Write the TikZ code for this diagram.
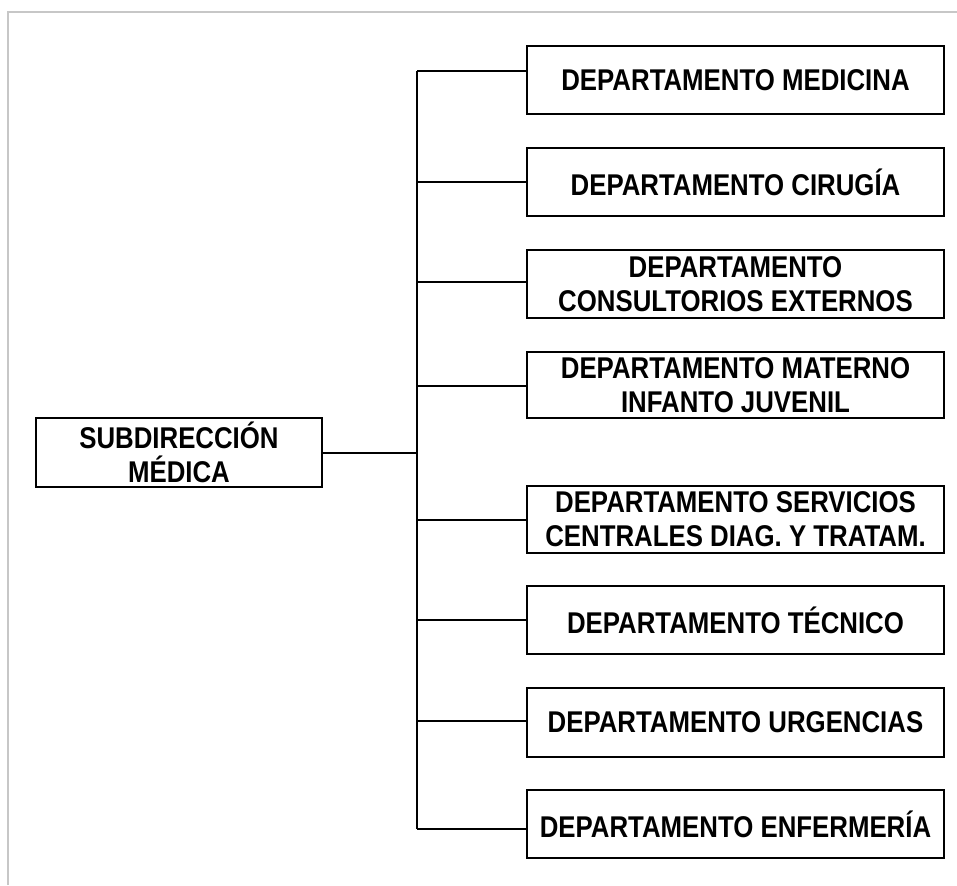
\documentclass[tikz,border=0pt]{standalone}
\usepackage{fontspec}
\setmainfont{Liberation Sans}[FakeStretch=0.86]
\begin{document}
\begin{tikzpicture}[x=1pt,y=-1pt,
  dept/.style={draw=black, line width=2pt, minimum width=417pt, inner sep=0pt,
    align=center, font=\fontsize{30}{34}\selectfont\bfseries},
  conn/.style={draw=black, line width=2pt},
  frame/.style={draw=black!22, line width=1.5pt}]
\useasboundingbox (0,0) rectangle (957,885);
\draw[frame] (8,885) -- (8,12) -- (957,12);
% root
\node[dept, minimum width=286pt, minimum height=69pt] (root) at (179,452.5) {SUBDIRECCIÓN\\MÉDICA};
% departments
\node[dept, minimum height=68pt] (b1) at (735.5,80) {DEPARTAMENTO MEDICINA};
\node[dept, minimum height=68pt] (b2) at (735.5,182) {DEPARTAMENTO CIRUGÍA};
\node[dept, minimum height=68pt] (b3) at (735.5,284) {DEPARTAMENTO\\CONSULTORIOS EXTERNOS};
\node[dept, minimum height=66pt] (b4) at (735.5,385) {DEPARTAMENTO MATERNO\\INFANTO JUVENIL};
\node[dept, minimum height=67pt] (b5) at (735.5,519.5) {DEPARTAMENTO SERVICIOS\\CENTRALES DIAG. Y TRATAM.};
\node[dept, minimum height=68pt] (b6) at (735.5,620) {DEPARTAMENTO TÉCNICO};
\node[dept, minimum height=69pt] (b7) at (735.5,722.5) {DEPARTAMENTO URGENCIAS};
\node[dept, minimum height=68pt] (b8) at (735.5,824) {DEPARTAMENTO ENFERMERÍA};
% bus junctions
\coordinate (j1) at (417,71);
\coordinate (j2) at (417,182);
\coordinate (j3) at (417,282);
\coordinate (j4) at (417,386);
\coordinate (j5) at (417,520);
\coordinate (j6) at (417,620);
\coordinate (j7) at (417,721);
\coordinate (j8) at (417,829);
\draw[conn] (j1) -- (j8);
\draw[conn] (root.east) -- (root.east -| j1);
\foreach \i in {1,...,8} {
  \draw[conn] (j\i) -- (j\i -| b\i.west);
}
\end{tikzpicture}
\end{document}
